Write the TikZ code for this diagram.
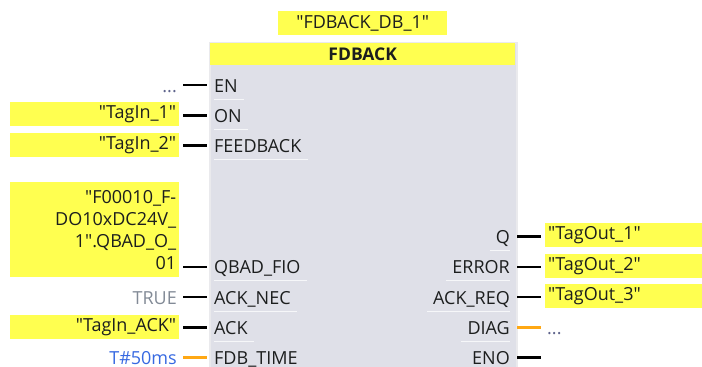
\documentclass[tikz,border=0pt]{standalone}
\usepackage{fontspec}
\setmainfont{Open Sans}
\definecolor{tagyel}{RGB}{255,255,80}
\definecolor{blkfill}{RGB}{223,224,232}
\definecolor{blkedge}{RGB}{234,234,237}
\definecolor{txt}{RGB}{28,30,30}
\definecolor{truegray}{RGB}{130,138,150}
\definecolor{timeblue}{RGB}{55,105,225}
\definecolor{dotcol}{RGB}{95,100,140}
\definecolor{wireorange}{RGB}{255,168,20}
\newcommand\dq{\XeTeXglyph\XeTeXglyphindex "quotedbl"\relax}
\begin{document}
\begin{tikzpicture}[x=1pt,y=-1pt,
  font=\fontsize{18}{22}\selectfont,
  tagbox/.style={fill=tagyel, draw=none, inner ysep=0pt, inner xsep=3pt, text=txt},
  pinlab/.style={inner sep=0pt, text=txt},
  sepline/.style={white, opacity=0.75, line width=1pt},
  wire/.style={line width=2.6pt, black},
  owire/.style={line width=2.6pt, wireorange},
  valtext/.style={inner sep=0pt}]
\useasboundingbox (0,0) rectangle (702,367);
\clip (0,0) rectangle (702,367);

% block
\node[fill=blkfill, draw=blkedge, line width=2pt, anchor=north west,
      minimum width=307pt, minimum height=340pt, inner sep=0pt] (blk) at (209,42) {};
\node[fill=tagyel, anchor=north west, minimum width=305pt, minimum height=22pt,
      inner sep=0pt, text=txt, font=\fontsize{17.5}{22}\selectfont\bfseries] (ttl) at (210,43) {FDBACK};
\node[tagbox, anchor=north west, minimum width=169pt, minimum height=24pt] (inst)
      at (278,11) {\dq FDBACK\_DB\_1\dq};

% left pins
\foreach \nm/\k/\lab in {EN/0/EN,ON/1/ON,FB/2/FEEDBACK,QB/6/QBAD\_FIO,AN/7/ACK\_NEC,AK/8/ACK,FT/9/FDB\_TIME}{
  \pgfmathsetmacro\py{85+30.3*\k}
  \node[pinlab, anchor=base west] (p\nm) at (214,\py+7) {\lab};
  \draw[sepline] ([yshift=-7pt]p\nm.base west) -- ([yshift=-7pt,xshift=6pt]p\nm.base east);
  \coordinate (a\nm) at (183,\py);
  \coordinate (b\nm) at (207,\py);
}
% right pins
\foreach \nm/\k/\lab in {Q/5/Q,ER/6/ERROR,AR/7/ACK\_REQ,DG/8/DIAG,EO/9/ENO}{
  \pgfmathsetmacro\py{85+30.3*\k}
  \node[pinlab, anchor=base east] (p\nm) at (510,\py+7) {\lab};
  \draw[sepline] ([yshift=-7pt,xshift=-6pt]p\nm.base west) -- ([yshift=-7pt]p\nm.base east);
  \coordinate (a\nm) at (517,\py);
  \coordinate (b\nm) at (541,\py);
}

% wires
\foreach \nm in {EN,ON,FB,QB,AN,AK,Q,ER,AR,EO}{\draw[wire] (a\nm) -- (b\nm);}
\draw[owire] (aFT) -- (bFT);
\draw[owire] (aDG) -- (bDG);

% left values
\node[valtext, anchor=base east, text=dotcol] (vEN) at (177,92) {...};
\node[tagbox, anchor=north west, minimum width=169pt, minimum height=24pt,
      text width=163pt, align=right] (vON) at (10,102) {\dq TagIn\_1\dq};
\node[tagbox, anchor=north west, minimum width=169pt, minimum height=24pt,
      text width=163pt, align=right] (vFB) at (10,132.5) {\dq TagIn\_2\dq};
\node[tagbox, anchor=north west, minimum width=169pt, minimum height=95pt,
      text width=163pt, align=right] (vQB) at (10,182)
      {\dq F00010\_F-\\DO10xDC24V\_\\1\dq.QBAD\_O\_\\01};
\node[valtext, anchor=base east, text=truegray] (vAN) at (177,304.1) {TRUE};
\node[tagbox, anchor=north west, minimum width=169pt, minimum height=24pt,
      text width=163pt, align=right] (vAK) at (10,314.5) {\dq TagIn\_ACK\dq};
\node[valtext, anchor=base east, text=timeblue] (vFT) at (177,364.7) {T\#50ms};

% right values
\node[tagbox, anchor=north west, minimum width=160pt, minimum height=24pt,
      text width=154pt, align=left] (vQ) at (545,223) {\dq TagOut\_1\dq};
\node[tagbox, anchor=north west, minimum width=160pt, minimum height=24pt,
      text width=154pt, align=left] (vER) at (545,253.5) {\dq TagOut\_2\dq};
\node[tagbox, anchor=north west, minimum width=160pt, minimum height=24pt,
      text width=154pt, align=left] (vAR) at (545,284) {\dq TagOut\_3\dq};
\node[valtext, anchor=base west, text=dotcol] (vDG) at (547,334.4) {...};
\end{tikzpicture}
\end{document}
